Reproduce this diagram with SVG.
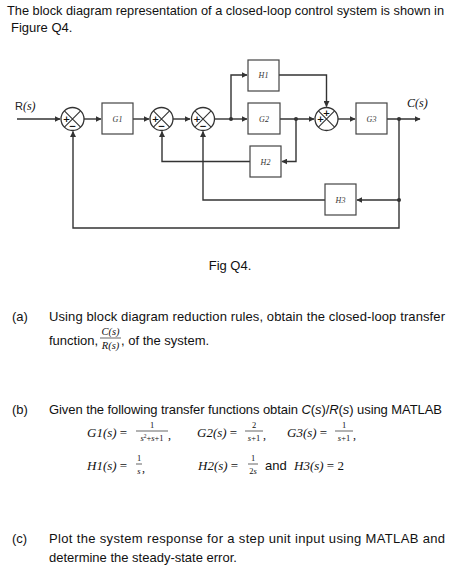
<svg xmlns="http://www.w3.org/2000/svg" width="451" height="576" viewBox="0 0 451 576">
<style>
.t{font-family:"Liberation Sans",Arial,sans-serif;font-size:13px;fill:#111}
.m{font-family:"Liberation Serif","DejaVu Serif",serif;font-style:italic;fill:#111}
.mu{font-family:"Liberation Serif","DejaVu Serif",serif;fill:#111}
.bl{font-family:"Liberation Serif",serif;font-style:italic;font-size:8px;fill:#333}
.box{fill:#fff;stroke:#444;stroke-width:1.2}
.sj{fill:#fff;stroke:#333;stroke-width:1.3}
.x{stroke:#333;stroke-width:1.1}
.w{fill:none;stroke:#333;stroke-width:1.4}
.sg{font-family:"DejaVu Sans",sans-serif;font-size:9px;font-weight:bold;fill:#111}
.fr{stroke:#222;stroke-width:0.7}
</style>
<defs>
<marker id="a" viewBox="0 0 10 10" refX="9" refY="5" markerWidth="6" markerHeight="6" markerUnits="userSpaceOnUse" orient="auto">
<path d="M0,0L10,5L0,10z" fill="#333"/>
</marker>
</defs>

<text class="t" x="7" y="15" textLength="437" lengthAdjust="spacingAndGlyphs">The block diagram representation of a closed-loop control system is shown in</text>
<text class="t" x="11" y="32">Figure Q4.</text>

<g id="connectors" class="w">
<path d="M17,119H60" marker-end="url(#a)"/>
<path d="M84,119H101" marker-end="url(#a)"/>
<path d="M133,119H149" marker-end="url(#a)"/>
<path d="M173,119H190" marker-end="url(#a)"/>
<path d="M215,119H247" marker-end="url(#a)"/>
<path d="M231,119V75H247" marker-end="url(#a)"/>
<path d="M280,119H314" marker-end="url(#a)"/>
<path d="M279,75H326.5V106.5" marker-end="url(#a)"/>
<path d="M296,119V161.5H282" marker-end="url(#a)"/>
<path d="M250,161.5H162V131.5" marker-end="url(#a)"/>
<path d="M338,119H355" marker-end="url(#a)"/>
<path d="M387,119H420" marker-end="url(#a)"/>
<path d="M399,119V228H73V131.5" marker-end="url(#a)"/>
<path d="M399,200H357" marker-end="url(#a)"/>
<path d="M325,200H203V131.5" marker-end="url(#a)"/>
</g>
<g id="dots" fill="#333">
<circle cx="231" cy="119" r="2"/>
<circle cx="296" cy="119" r="2"/>
<circle cx="399" cy="119" r="2"/>
<circle cx="399" cy="200" r="2"/>
</g>

<g id="R">
<text x="15" y="110" style="font-family:'Liberation Sans',Arial,sans-serif;font-size:11px;fill:#222">R<tspan class="m" font-size="12">(s)</tspan></text>
</g>
<g id="C">
<text class="m" x="407" y="107" font-size="12">C(s)</text>
</g>

<g id="sum1">
<circle class="sj" cx="72.5" cy="119" r="11.5"/>
<path class="x" d="M64.4,110.9L80.6,127.1M80.6,110.9L64.4,127.1"/>
<text class="sg" x="66.5" y="122.2" text-anchor="middle">+</text>
<text class="sg" x="72.5" y="129" text-anchor="middle">−</text>
</g>
<g id="G1">
<rect class="box" x="102" y="103" width="31" height="31"/>
<text class="bl" x="117.5" y="121.5" text-anchor="middle">G1</text>
</g>
<g id="sum2">
<circle class="sj" cx="161.5" cy="119" r="11.5"/>
<path class="x" d="M153.4,110.9L169.6,127.1M169.6,110.9L153.4,127.1"/>
<text class="sg" x="155.5" y="122.2" text-anchor="middle">+</text>
<text class="sg" x="161.5" y="129" text-anchor="middle">−</text>
</g>
<g id="sum3">
<circle class="sj" cx="203" cy="119" r="11.5"/>
<path class="x" d="M194.9,110.9L211.1,127.1M211.1,110.9L194.9,127.1"/>
<text class="sg" x="197" y="122.2" text-anchor="middle">+</text>
<text class="sg" x="203" y="129" text-anchor="middle">−</text>
</g>
<g id="H1">
<rect class="box" x="248" y="60" width="31" height="31"/>
<text class="bl" x="263.5" y="78" text-anchor="middle">H1</text>
</g>
<g id="G2">
<rect class="box" x="248" y="103" width="32" height="31"/>
<text class="bl" x="264" y="121.5" text-anchor="middle">G2</text>
</g>
<g id="H2">
<rect class="box" x="250" y="146" width="31" height="31"/>
<text class="bl" x="265.5" y="164.5" text-anchor="middle">H2</text>
</g>
<g id="sum4">
<circle class="sj" cx="326.5" cy="119" r="11.5"/>
<path class="x" d="M318.4,110.9L334.6,127.1M334.6,110.9L318.4,127.1"/>
<text class="sg" x="320.5" y="122.2" text-anchor="middle">+</text>
<text class="sg" x="326.5" y="116.2" text-anchor="middle">+</text>
</g>
<g id="G3">
<rect class="box" x="356" y="103" width="31" height="31"/>
<text class="bl" x="371.5" y="121.5" text-anchor="middle">G3</text>
</g>
<g id="H3">
<rect class="box" x="325" y="184" width="31" height="31"/>
<text class="bl" x="340.5" y="202.5" text-anchor="middle">H3</text>
</g>

<text class="t" x="230" y="270" text-anchor="middle">Fig Q4.</text>

<text class="t" x="12" y="321">(a)</text>
<text class="t" x="49" y="321" textLength="396" lengthAdjust="spacing">Using block diagram reduction rules, obtain the closed-loop transfer</text>
<text class="t" x="49" y="345">function,</text>
<text class="m" x="110.5" y="335" font-size="10.5" text-anchor="middle">C(s)</text>
<line class="fr" x1="100" y1="338" x2="121" y2="338"/>
<text class="m" x="110.5" y="349" font-size="10.5" text-anchor="middle">R(s)</text>
<text class="t" x="121" y="345">, of the system.</text>

<text class="t" x="12" y="414">(b)</text>
<text class="t" x="49" y="414" textLength="393" lengthAdjust="spacing">Given the following transfer functions obtain <tspan font-style="italic">C</tspan>(<tspan font-style="italic">s</tspan>)/<tspan font-style="italic">R</tspan>(<tspan font-style="italic">s</tspan>) using MATLAB</text>

<text class="m" x="87" y="437" font-size="13">G1(s) <tspan font-style="normal">=</tspan></text>
<text class="mu" x="152" y="428" font-size="8.5" text-anchor="middle">1</text>
<line class="fr" x1="136" y1="431" x2="168" y2="431"/>
<text class="m" x="152" y="441" font-size="8.5" text-anchor="middle">s<tspan font-style="normal" font-size="5.5" dy="-3">2</tspan><tspan font-style="normal" dy="3">+</tspan>s<tspan font-style="normal">+1</tspan></text>
<text class="mu" x="168" y="439" font-size="12">,</text>

<text class="m" x="197" y="437" font-size="13">G2(s) <tspan font-style="normal">=</tspan></text>
<text class="mu" x="254" y="428" font-size="8.5" text-anchor="middle">2</text>
<line class="fr" x1="245" y1="431" x2="263" y2="431"/>
<text class="m" x="254" y="441" font-size="8.5" text-anchor="middle">s<tspan font-style="normal">+1</tspan></text>
<text class="mu" x="263" y="439" font-size="12">,</text>

<text class="m" x="287" y="437" font-size="13">G3(s) <tspan font-style="normal">=</tspan></text>
<text class="mu" x="344" y="428" font-size="8.5" text-anchor="middle">1</text>
<line class="fr" x1="335" y1="431" x2="353" y2="431"/>
<text class="m" x="344" y="441" font-size="8.5" text-anchor="middle">s<tspan font-style="normal">+1</tspan></text>
<text class="mu" x="353" y="439" font-size="12">,</text>

<text class="m" x="87" y="470" font-size="13">H1(s) <tspan font-style="normal">=</tspan></text>
<text class="mu" x="139" y="461" font-size="8.5" text-anchor="middle">1</text>
<line class="fr" x1="136" y1="464" x2="142" y2="464"/>
<text class="m" x="139" y="474" font-size="8.5" text-anchor="middle">s</text>
<text class="mu" x="142" y="472" font-size="12">,</text>

<text class="m" x="198" y="470" font-size="13">H2(s) <tspan font-style="normal">=</tspan></text>
<text class="mu" x="253" y="461" font-size="8.5" text-anchor="middle">1</text>
<line class="fr" x1="248" y1="464" x2="258" y2="464"/>
<text class="m" x="253" y="474" font-size="8.5" text-anchor="middle"><tspan font-style="normal">2</tspan>s</text>
<text class="t" x="265" y="470">and</text>
<text class="m" x="294" y="470" font-size="13">H3(s) <tspan font-style="normal">= 2</tspan></text>

<text class="t" x="12" y="543">(c)</text>
<text class="t" x="49" y="543" textLength="396" lengthAdjust="spacing">Plot the system response for a step unit input using MATLAB and</text>
<text class="t" x="49" y="562">determine the steady-state error.</text>
</svg>
